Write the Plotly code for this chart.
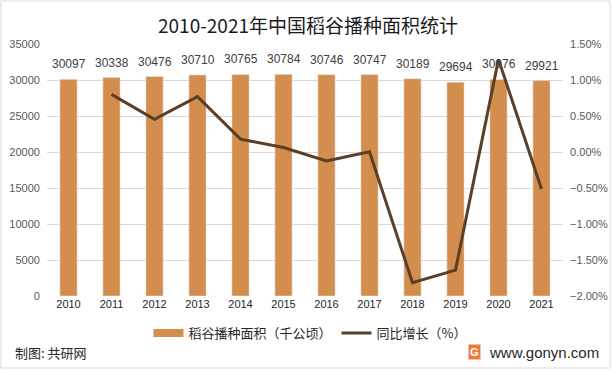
import plotly.graph_objects as go

years = ["2010", "2011", "2012", "2013", "2014", "2015", "2016", "2017", "2018", "2019", "2020", "2021"]
area = [30097, 30338, 30476, 30710, 30765, 30784, 30746, 30747, 30189, 29694, 30076, 29921]
growth_pct = [None, 0.80, 0.455, 0.768, 0.179, 0.062, -0.123, 0.003, -1.815, -1.640, 1.286, -0.515]

growth = [None if g is None else g / 100 for g in growth_pct]

FONT = "Noto Sans CJK SC, Noto Sans, sans-serif"
NUMF = "Liberation Sans, Arial, sans-serif"
BAR = "#D38D4D"
LINE = "#5C3F27"
BAR_NAME = "稻谷播种面积（千公顷）"
LINE_NAME = "同比增长（%）"

W, H = 612, 370
ML, MR, MT, MB = 47, 49, 44, 74
PW, PH = W - ML - MR, H - MT - MB

fig = go.Figure()
fig.add_trace(go.Bar(x=years, y=area, name=BAR_NAME, marker_color=BAR, showlegend=False))
# legend stand-in for the bar series (wide swatch like the reference)
fig.add_trace(go.Scatter(x=years, y=[None] * len(years), mode="lines", name=BAR_NAME,
                         line=dict(color=BAR, width=8), hoverinfo="skip"))
fig.add_trace(go.Scatter(
    x=years, y=growth, name=LINE_NAME, mode="lines",
    line=dict(color=LINE, width=3), yaxis="y2", connectgaps=False,
))

# value labels: category index positions on the category axis
for i, v in enumerate(area):
    fig.add_annotation(x=i, y=v, xref="x", yref="y", text=str(v), showarrow=False,
                       yanchor="middle", yshift=15,
                       font=dict(size=12, color="#404040", family=NUMF))

fig.update_layout(
    width=W, height=H,
    paper_bgcolor="white", plot_bgcolor="white",
    margin=dict(l=ML, r=MR, t=MT, b=MB),
    font=dict(family=FONT, color="#595959", size=11),
    title=dict(text="2010-2021年中国稻谷播种面积统计", x=308 / W,
               xanchor="center", y=1 - 26 / H, yanchor="middle",
               font=dict(size=19, color="#1a1a1a", family=FONT)),
    bargap=0.6,
    xaxis=dict(type="category", categoryorder="array", categoryarray=years,
               range=[-0.5, len(years) - 0.5], autorange=False,
               showgrid=False, showline=False, ticks="", automargin=False,
               tickfont=dict(size=11, color="#262626", family=NUMF)),
    yaxis=dict(range=[0, 35000], dtick=5000, tickformat="d", showgrid=True, gridcolor="#D9D9D9",
               gridwidth=1, zeroline=False, showline=False, ticks="", ticksuffix="  ",
               automargin=False, tickfont=dict(size=11, color="#595959", family=NUMF)),
    yaxis2=dict(range=[-0.02, 0.015], dtick=0.005, tickformat=".2%", overlaying="y", side="right",
                showgrid=False, zeroline=False, showline=False, ticks="", tickprefix="  ",
                automargin=False, tickfont=dict(size=11, color="#595959", family=NUMF)),
    legend=dict(orientation="h", x=(310 - ML) / PW, xanchor="center", y=-(333 - 296) / PH,
                yanchor="middle", font=dict(size=13, color="#262626", family=FONT),
                traceorder="normal"),
    showlegend=True,
)

fy = -(352 - 296) / PH
fig.add_annotation(text="制图: 共研网", xref="paper", yref="paper", x=-(ML - 13) / PW, xanchor="left",
                   y=fy, yanchor="middle", showarrow=False,
                   font=dict(size=13, color="#262626", family=FONT))
fig.add_annotation(text="www.gonyn.com", xref="paper", yref="paper", x=1 + (MR - 11) / PW, xanchor="right",
                   y=fy, yanchor="middle", showarrow=False,
                   font=dict(size=15, color="#262626", family=NUMF))
fig.add_annotation(text="<b>G</b>", xref="paper", yref="paper", x=(474 - ML) / PW, xanchor="center",
                   y=fy, yanchor="middle", showarrow=False, bgcolor="#F07A3A", borderpad=1,
                   font=dict(size=11, color="white", family=NUMF))
fig.add_shape(type="rect", xref="paper", yref="paper",
              x0=-(ML - 1) / PW, x1=1 + (MR - 2) / PW, y0=-(MB - 2) / PH, y1=1 + (MT - 1) / PH,
              line=dict(color="#D9D9D9", width=1), fillcolor="rgba(0,0,0,0)")

fig.write_html("out.html", config={"displayModeBar": False},
               post_script="document.body.style.margin='0';document.body.style.padding='0';")
